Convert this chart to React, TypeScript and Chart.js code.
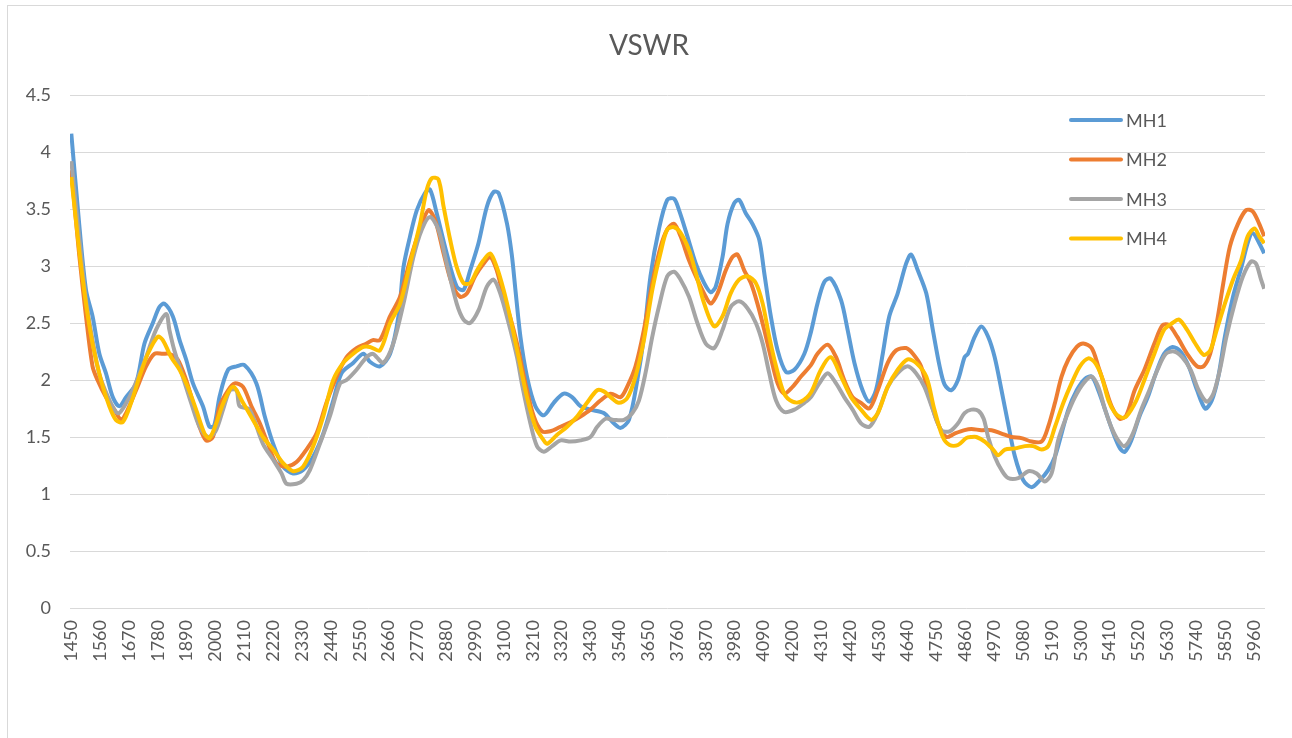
import React, { useEffect, useRef } from "react";
import { Chart, registerables } from "chart.js";

Chart.register(...registerables);

const chartTitle = "VSWR";
const seriesNames = ["MH1", "MH2", "MH3", "MH4"];
const seriesColors = ["#5B9BD5", "#ED7D31", "#A5A5A5", "#FFC000"];

const xTickLabels = [
  1450, 1560, 1670, 1780, 1890, 2000, 2110, 2220, 2330, 2440, 2550, 2660, 2770, 2880,
  2990, 3100, 3210, 3320, 3430, 3540, 3650, 3760, 3870, 3980, 4090, 4200, 4310, 4420,
  4530, 4640, 4750, 4860, 4970, 5080, 5190, 5300, 5410, 5520, 5630, 5740, 5850, 5960,
];

const mh1Freq = [
  1450, 1480, 1506, 1531, 1557, 1582, 1608, 1633, 1659, 1697, 1729, 1761, 1786, 1805, 1837,
  1863, 1888, 1914, 1952, 1977, 1995, 2016, 2048, 2080, 2111, 2156, 2188, 2220, 2258, 2296,
  2334, 2373, 2411, 2449, 2481, 2525, 2564, 2589, 2627, 2666, 2698, 2717, 2742, 2768, 2799,
  2818, 2844, 2882, 2920, 2946, 2971, 3003, 3035, 3061, 3080, 3112, 3130, 3144, 3163, 3188,
  3220, 3252, 3290, 3328, 3360, 3392, 3430, 3481, 3519, 3545, 3577, 3609, 3634, 3659, 3691,
  3723, 3749, 3768, 3800, 3832, 3864, 3889, 3908, 3934, 3953, 3978, 3997, 4023, 4048, 4074,
  4093, 4118, 4144, 4176, 4208, 4246, 4271, 4296, 4322, 4347, 4386, 4411, 4437, 4468, 4494,
  4519, 4545, 4570, 4602, 4634, 4653, 4679, 4711, 4736, 4762, 4781, 4806, 4832, 4857, 4870,
  4896, 4921, 4947, 4972, 4998, 5023, 5049, 5081, 5113, 5144, 5176, 5202, 5227, 5253, 5285,
  5316, 5342, 5367, 5393, 5425, 5450, 5468, 5493, 5524, 5556, 5587, 5618, 5650, 5681, 5712,
  5744, 5775, 5800, 5825, 5850, 5881, 5913, 5938, 5956, 5981, 6000,
];
const mh1Vswr = [
  4.16, 3.37, 2.79, 2.56, 2.23, 2.06, 1.85, 1.77, 1.85, 1.97, 2.32, 2.5, 2.64, 2.67, 2.56,
  2.35, 2.18, 1.97, 1.77, 1.59, 1.6, 1.86, 2.09, 2.12, 2.13, 1.97, 1.68, 1.44, 1.24, 1.18,
  1.21, 1.33, 1.53, 1.82, 2.06, 2.15, 2.23, 2.16, 2.12, 2.23, 2.56, 2.99, 3.26, 3.49, 3.64,
  3.67, 3.46, 3.11, 2.82, 2.79, 2.96, 3.2, 3.52, 3.65, 3.64, 3.37, 3.1, 2.79, 2.38, 2.03,
  1.77, 1.69, 1.8, 1.88, 1.85, 1.77, 1.74, 1.71, 1.62, 1.58, 1.65, 2.0, 2.38, 2.91, 3.32,
  3.58, 3.59, 3.49, 3.26, 3.02, 2.85, 2.77, 2.82, 3.08, 3.37, 3.55, 3.58, 3.46, 3.37, 3.23,
  2.94, 2.56, 2.26, 2.07, 2.09, 2.23, 2.42, 2.67, 2.86, 2.89, 2.7, 2.44, 2.15, 1.91, 1.81,
  1.91, 2.23, 2.56, 2.76, 3.02, 3.1, 2.96, 2.76, 2.44, 2.12, 1.96, 1.91, 2.0, 2.2, 2.23,
  2.38, 2.47, 2.38, 2.2, 1.91, 1.62, 1.33, 1.12, 1.06, 1.12, 1.21, 1.33, 1.53, 1.74, 1.91,
  2.01, 2.03, 1.91, 1.74, 1.53, 1.4, 1.37, 1.47, 1.68, 1.85, 2.06, 2.23, 2.29, 2.25, 2.12,
  1.91, 1.75, 1.82, 2.03, 2.38, 2.73, 2.99, 3.21, 3.29, 3.2, 3.11,
];

const mh2Freq = [
  1450, 1480, 1506, 1531, 1550, 1582, 1614, 1640, 1659, 1697, 1735, 1767, 1799, 1824, 1856,
  1888, 1914, 1939, 1964, 1990, 2016, 2048, 2073, 2105, 2137, 2169, 2200, 2232, 2271, 2309,
  2347, 2385, 2423, 2462, 2500, 2538, 2576, 2600, 2627, 2666, 2704, 2742, 2780, 2812, 2838,
  2870, 2901, 2933, 2959, 2990, 3022, 3048, 3073, 3099, 3124, 3150, 3182, 3214, 3245, 3277,
  3316, 3354, 3392, 3430, 3468, 3507, 3545, 3570, 3602, 3634, 3666, 3698, 3723, 3749, 3774,
  3806, 3838, 3870, 3889, 3915, 3946, 3972, 3991, 4017, 4042, 4067, 4093, 4118, 4144, 4169,
  4201, 4233, 4271, 4296, 4335, 4367, 4398, 4430, 4462, 4494, 4526, 4564, 4596, 4634, 4660,
  4691, 4723, 4755, 4787, 4819, 4857, 4883, 4921, 4960, 4998, 5036, 5074, 5113, 5151, 5176,
  5202, 5227, 5253, 5285, 5310, 5342, 5367, 5393, 5418, 5449, 5474, 5506, 5543, 5581, 5612,
  5637, 5668, 5706, 5744, 5769, 5794, 5819, 5844, 5869, 5900, 5931, 5956, 5981, 6000,
];
const mh2Vswr = [
  3.84, 3.1, 2.56, 2.12, 2.0, 1.85, 1.74, 1.65, 1.71, 1.91, 2.12, 2.23, 2.23, 2.23, 2.18,
  2.0, 1.8, 1.59, 1.47, 1.5, 1.77, 1.91, 1.97, 1.94, 1.77, 1.62, 1.44, 1.27, 1.24, 1.28,
  1.39, 1.53, 1.8, 2.03, 2.2, 2.28, 2.32, 2.35, 2.35, 2.56, 2.73, 3.05, 3.32, 3.49, 3.4,
  3.11, 2.85, 2.73, 2.76, 2.91, 3.02, 3.08, 2.96, 2.73, 2.55, 2.32, 1.97, 1.68, 1.55, 1.55,
  1.59, 1.63, 1.68, 1.74, 1.82, 1.88, 1.85, 1.94, 2.12, 2.44, 2.85, 3.17, 3.32, 3.37, 3.26,
  3.05, 2.88, 2.73, 2.67, 2.76, 2.96, 3.08, 3.1, 2.96, 2.85, 2.67, 2.44, 2.2, 1.97, 1.88,
  1.94, 2.03, 2.13, 2.23, 2.31, 2.2, 2.0, 1.85, 1.8, 1.75, 1.91, 2.15, 2.26, 2.28, 2.23,
  2.12, 1.85, 1.62, 1.5, 1.53, 1.56, 1.57, 1.56, 1.56, 1.53, 1.5, 1.49, 1.46, 1.46, 1.59,
  1.8, 2.03, 2.18, 2.29, 2.32, 2.28, 2.12, 1.94, 1.77, 1.66, 1.69, 1.91, 2.09, 2.32, 2.48,
  2.48, 2.38, 2.23, 2.12, 2.12, 2.23, 2.5, 2.85, 3.17, 3.37, 3.49, 3.48, 3.37, 3.26,
];

const mh3Freq = [
  1450, 1480, 1506, 1531, 1557, 1590, 1620, 1633, 1660, 1684, 1735, 1773, 1812, 1824, 1843,
  1875, 1907, 1939, 1971, 2000, 2030, 2055, 2080, 2092, 2130, 2181, 2220, 2252, 2271, 2309,
  2334, 2360, 2398, 2436, 2475, 2500, 2538, 2576, 2600, 2615, 2640, 2678, 2717, 2755, 2787,
  2818, 2850, 2882, 2920, 2946, 2971, 3003, 3035, 3061, 3086, 3118, 3150, 3170, 3201, 3226,
  3252, 3284, 3316, 3354, 3392, 3430, 3456, 3488, 3519, 3558, 3590, 3615, 3640, 3666, 3691,
  3723, 3749, 3774, 3806, 3838, 3870, 3902, 3934, 3965, 3997, 4029, 4061, 4087, 4112, 4138,
  4169, 4208, 4246, 4271, 4303, 4335, 4367, 4398, 4430, 4462, 4494, 4526, 4564, 4602, 4640,
  4672, 4704, 4736, 4768, 4800, 4832, 4857, 4883, 4910, 4930, 4947, 4972, 4998, 5023, 5062,
  5100, 5132, 5163, 5189, 5214, 5246, 5278, 5310, 5342, 5367, 5393, 5418, 5443, 5468, 5499,
  5531, 5562, 5593, 5625, 5656, 5687, 5719, 5750, 5781, 5806, 5831, 5856, 5887, 5919, 5950,
  5969, 5988, 6000,
];
const mh3Vswr = [
  3.92, 3.25, 2.7, 2.35, 2.05, 1.85, 1.72, 1.71, 1.8, 1.91, 2.2, 2.44, 2.58, 2.44, 2.26,
  2.03, 1.8, 1.59, 1.5, 1.55, 1.75, 1.91, 1.91, 1.77, 1.74, 1.44, 1.3, 1.18, 1.09, 1.09,
  1.12, 1.21, 1.44, 1.68, 1.97, 2.0, 2.09, 2.2, 2.23, 2.2, 2.15, 2.32, 2.67, 3.08, 3.32,
  3.43, 3.32, 3.02, 2.67, 2.53, 2.5, 2.61, 2.82, 2.88, 2.76, 2.5, 2.2, 1.95, 1.62, 1.42,
  1.37, 1.42, 1.47, 1.46, 1.47, 1.5, 1.59, 1.66, 1.65, 1.65, 1.71, 1.82, 2.06, 2.38, 2.64,
  2.91, 2.95, 2.88, 2.73, 2.5, 2.32, 2.28, 2.44, 2.64, 2.69, 2.63, 2.5, 2.32, 2.06, 1.82,
  1.72, 1.74, 1.8, 1.85, 1.97, 2.06, 1.97, 1.85, 1.74, 1.62, 1.59, 1.71, 1.94, 2.06, 2.12,
  2.06, 1.94, 1.74, 1.56, 1.55, 1.62, 1.71, 1.74, 1.73, 1.66, 1.5, 1.33, 1.21, 1.14, 1.14,
  1.2, 1.18, 1.11, 1.18, 1.47, 1.68, 1.85, 1.97, 2.03, 1.94, 1.74, 1.58, 1.47, 1.42, 1.53,
  1.74, 1.91, 2.09, 2.23, 2.25, 2.2, 2.09, 1.91, 1.81, 1.88, 2.09, 2.38, 2.67, 2.91, 3.04,
  3.02, 2.88, 2.8,
];

const mh4Freq = [
  1450, 1480, 1506, 1531, 1563, 1595, 1620, 1646, 1678, 1710, 1742, 1780, 1799, 1831, 1863,
  1894, 1926, 1958, 1977, 2003, 2030, 2067, 2105, 2143, 2181, 2220, 2258, 2296, 2334, 2373,
  2411, 2449, 2487, 2525, 2564, 2589, 2627, 2666, 2704, 2742, 2780, 2806, 2825, 2850, 2870,
  2895, 2920, 2946, 2971, 2997, 3022, 3048, 3073, 3099, 3124, 3156, 3188, 3220, 3252, 3265,
  3303, 3341, 3379, 3417, 3456, 3481, 3507, 3538, 3570, 3602, 3634, 3666, 3698, 3723, 3749,
  3774, 3806, 3832, 3864, 3902, 3934, 3965, 3997, 4029, 4061, 4087, 4112, 4138, 4169, 4201,
  4233, 4271, 4309, 4347, 4386, 4424, 4462, 4500, 4526, 4564, 4602, 4640, 4672, 4711, 4742,
  4774, 4800, 4832, 4863, 4883, 4902, 4934, 4966, 4985, 5011, 5049, 5087, 5119, 5151, 5176,
  5202, 5234, 5265, 5297, 5329, 5355, 5380, 5406, 5431, 5456, 5474, 5512, 5543, 5581, 5618,
  5650, 5675, 5706, 5737, 5769, 5794, 5819, 5850, 5881, 5912, 5937, 5963, 5981, 6000,
];
const mh4Vswr = [
  3.78, 3.14, 2.67, 2.32, 2.0, 1.77, 1.65, 1.63, 1.8, 2.03, 2.23, 2.38, 2.35, 2.2, 2.09,
  1.94, 1.74, 1.53, 1.49, 1.62, 1.8, 1.94, 1.8, 1.65, 1.5, 1.39, 1.27, 1.2, 1.24, 1.42,
  1.68, 2.0, 2.15, 2.23, 2.29, 2.29, 2.26, 2.5, 2.67, 3.02, 3.37, 3.67, 3.77, 3.76, 3.52,
  3.23, 2.99, 2.85, 2.85, 2.96, 3.05, 3.11, 2.99, 2.79, 2.55, 2.2, 1.85, 1.59, 1.47, 1.44,
  1.52, 1.59, 1.68, 1.8, 1.91, 1.9, 1.85, 1.8, 1.84, 2.03, 2.35, 2.79, 3.12, 3.32, 3.34,
  3.29, 3.14, 2.94, 2.67, 2.47, 2.56, 2.76, 2.88, 2.91, 2.85, 2.67, 2.38, 2.12, 1.88, 1.81,
  1.81, 1.89, 2.09, 2.2, 2.03, 1.85, 1.74, 1.65, 1.71, 1.94, 2.09, 2.18, 2.15, 2.03, 1.74,
  1.5, 1.43, 1.43, 1.49, 1.5, 1.5, 1.46, 1.39, 1.34, 1.39, 1.4, 1.42, 1.42, 1.39, 1.42,
  1.59, 1.8, 1.97, 2.12, 2.19, 2.15, 2.03, 1.82, 1.71, 1.67, 1.68, 1.82, 2.0, 2.23, 2.44,
  2.5, 2.53, 2.44, 2.32, 2.22, 2.26, 2.44, 2.67, 2.88, 3.05, 3.26, 3.33, 3.26, 3.2,
];

const seriesFreqs = [mh1Freq, mh2Freq, mh3Freq, mh4Freq];
const seriesValues = [mh1Vswr, mh2Vswr, mh3Vswr, mh4Vswr];

const TEXT_COLOR = "#595959";
const FONT = "Lato, 'Open Sans', sans-serif";

const overlayPlugin = {
  id: "overlayTitleLegend",
  afterDraw(chart: any) {
    const { ctx, chartArea } = chart;
    ctx.save();
    ctx.fillStyle = TEXT_COLOR;
    ctx.font = `28px ${FONT}`;
    ctx.textAlign = "center";
    ctx.textBaseline = "middle";
    ctx.fillText(chartTitle, 649, 46);

    const x0 = chartArea.right - 194;
    const y0 = chartArea.top + 25;
    chart.data.datasets.forEach((ds: any, i: number) => {
      const y = y0 + i * 39.5;
      ctx.strokeStyle = ds.borderColor;
      ctx.lineWidth = 4;
      ctx.lineCap = "round";
      ctx.beginPath();
      ctx.moveTo(x0, y);
      ctx.lineTo(x0 + 50, y);
      ctx.stroke();
      ctx.fillStyle = TEXT_COLOR;
      ctx.font = `18px ${FONT}`;
      ctx.textAlign = "left";
      ctx.textBaseline = "middle";
      ctx.fillText(ds.label, x0 + 55, y + 1);
    });
    ctx.restore();
  },
};

export default function App() {
  const canvasRef = useRef<HTMLCanvasElement | null>(null);

  useEffect(() => {
    if (!canvasRef.current) return;
    const datasets = seriesNames.map((name, i) => ({
      label: name,
      data: seriesFreqs[i].map((f, j) => ({ x: f, y: seriesValues[i][j] })),
      borderColor: seriesColors[i],
      backgroundColor: seriesColors[i],
      borderWidth: 4,
      pointRadius: 0,
      tension: 0.3,
      fill: false,
      order: seriesNames.length - i,
    }));

    const chart = new Chart(canvasRef.current, {
      type: "line",
      data: { datasets },
      options: {
        animation: false,
        responsive: false,
        events: [],
        layout: { padding: { left: 0, right: 27, top: 95, bottom: 0 } },
        plugins: {
          legend: { display: false },
          title: { display: false },
          tooltip: { enabled: false },
        },
        scales: {
          x: {
            type: "linear",
            min: 1445,
            max: 6003,
            grid: { display: false, drawTicks: false },
            border: { display: false },
            afterBuildTicks: (scale: any) => {
              scale.ticks = xTickLabels.map((v) => ({ value: v }));
            },
            afterFit: (scale: any) => {
              scale.height = 130;
            },
            ticks: {
              autoSkip: false,
              maxRotation: 90,
              minRotation: 90,
              padding: 12,
              color: TEXT_COLOR,
              font: { family: FONT, size: 18 },
              callback: (v: any) => String(v),
            },
          },
          y: {
            min: 0,
            max: 4.5,
            grid: { color: "#D9D9D9", lineWidth: 1, drawTicks: false },
            border: { display: false },
            afterFit: (scale: any) => {
              scale.width = 70;
            },
            ticks: {
              stepSize: 0.5,
              padding: 19,
              color: TEXT_COLOR,
              font: { family: FONT, size: 18 },
              callback: (v: any) => String(Math.round(Number(v) * 10) / 10),
            },
          },
        },
      },
      plugins: [overlayPlugin],
    });
    return () => chart.destroy();
  }, []);

  return (
    <div
      style={{
        position: "fixed",
        left: 0,
        top: 0,
        width: 1292,
        height: 738,
        background: "#ffffff",
        overflow: "hidden",
      }}
    >
      <div
        style={{
          position: "absolute",
          left: 7,
          top: 5,
          width: 1320,
          height: 780,
          border: "1px solid #D9D9D9",
          boxSizing: "border-box",
        }}
      />
      <canvas
        ref={canvasRef}
        width={1292}
        height={738}
        style={{ position: "absolute", left: 0, top: 0, display: "block" }}
      />
    </div>
  );
}
